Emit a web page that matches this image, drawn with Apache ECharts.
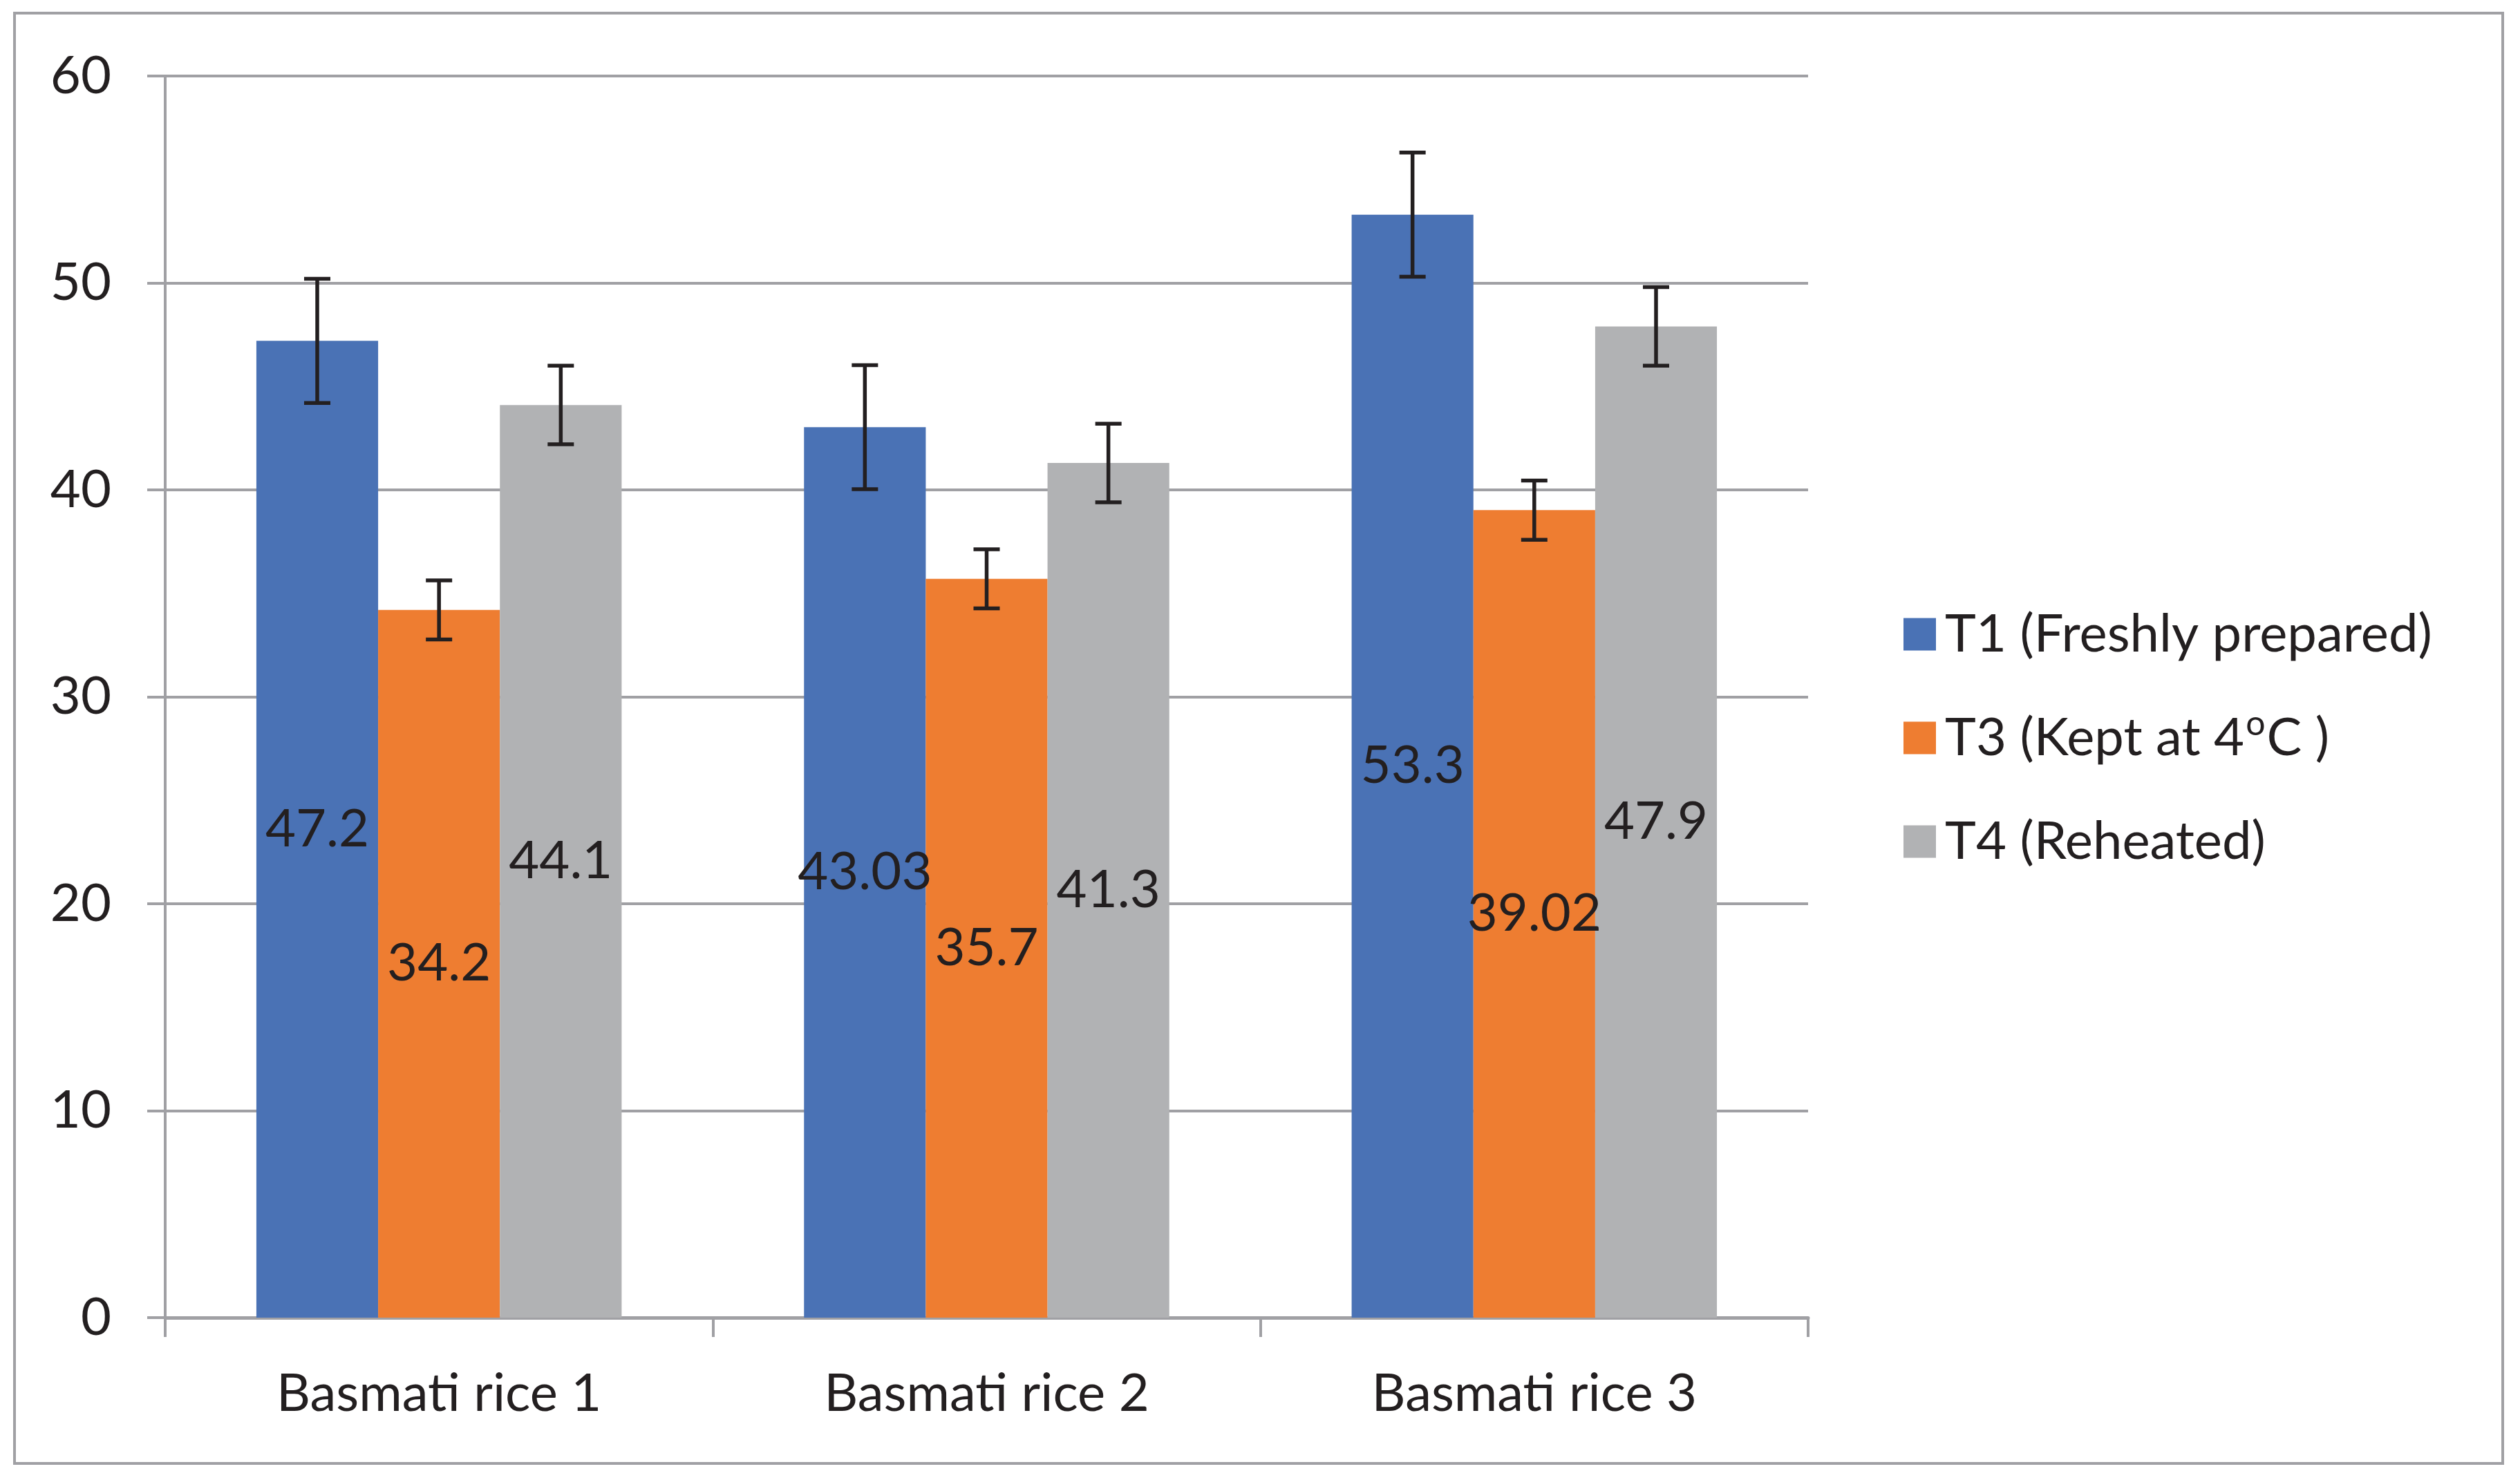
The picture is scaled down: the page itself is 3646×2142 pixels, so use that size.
<!DOCTYPE html>
<html>
<head>
<meta charset="utf-8">
<script src="https://cdn.jsdelivr.net/npm/echarts@6/dist/echarts.min.js"></script>
<style>
html,body{margin:0;padding:0;background:#fff;}
#c{width:3646px;height:2142px;}
</style>
</head>
<body>
<div id="c"></div>
<script>
const categories = ['Basmati rice 1', 'Basmati rice 2', 'Basmati rice 3'];
const seriesNames = ['T1 (Freshly prepared)', 'T3 (Kept at 4°C )', 'T4 (Reheated)'];
const t1Values = [47.2, 43.03, 53.3];
const t3Values = [34.2, 35.7, 39.02];
const t4Values = [44.1, 41.3, 47.9];
const t1Errors = [3.0, 3.0, 3.0];
const t3Errors = [1.43, 1.43, 1.43];
const t4Errors = [1.9, 1.9, 1.9];
const yTicks = [0, 10, 20, 30, 40, 50, 60];

const colors = ['#4a72b5', '#ee7d31', '#b1b2b4'];
const FONT = 'Lato';
const TXT = '#231f20';
const AXC = '#a0a0a4';
const GAP = 0.333;

const values = [t1Values, t3Values, t4Values];
const errors = [t1Errors, t3Errors, t4Errors];

const errData = [];
for (let k = 0; k < 3; k++) {
  for (let i = 0; i < categories.length; i++) {
    errData.push([i, values[k][i] - errors[k][i], values[k][i] + errors[k][i], k]);
  }
}

const chart = echarts.init(document.getElementById('c'), null, {renderer: 'canvas'});

const barSeries = seriesNames.map((name, k) => ({
  name: name,
  type: 'bar',
  data: values[k],
  barGap: '0%',
  barCategoryGap: (GAP * 100) + '%',
  itemStyle: {color: colors[k]},
  label: {
    show: true,
    position: 'inside',
    color: TXT,
    fontFamily: FONT,
    fontSize: 76,
    formatter: p => String(p.value)
  },
  emphasis: {disabled: true},
  z: 2
}));

const errSeries = {
  type: 'custom',
  name: 'err',
  data: errData,
  encode: {x: 0, y: [1, 2]},
  z: 5,
  silent: true,
  renderItem: function (params, api) {
    const cat = api.value(0), lo = api.value(1), hi = api.value(2), k = api.value(3);
    const bandW = api.size([1, 0])[0];
    const barW = bandW * (1 - GAP) / 3;
    const cx = api.coord([cat, 0])[0] + (k - 1) * barW;
    const yt = api.coord([cat, hi])[1];
    const yb = api.coord([cat, lo])[1];
    const ch = 19;
    const st = {stroke: TXT, lineWidth: 5.5};
    return {
      type: 'group',
      children: [
        {type: 'line', shape: {x1: cx, y1: yt, x2: cx, y2: yb}, style: st},
        {type: 'line', shape: {x1: cx - ch, y1: yt, x2: cx + ch, y2: yt}, style: st},
        {type: 'line', shape: {x1: cx - ch, y1: yb, x2: cx + ch, y2: yb}, style: st}
      ]
    };
  }
};

const option = {
  backgroundColor: '#ffffff',
  animation: false,
  graphic: [{
    type: 'rect',
    shape: {x: 21, y: 19, width: 3600, height: 2099},
    style: {fill: 'none', stroke: AXC, lineWidth: 4},
    z: 0
  }],
  grid: {left: 239, right: 1030, top: 110, bottom: 235, containLabel: false},
  legend: {
    orient: 'vertical',
    left: 2749,
    top: 868,
    itemWidth: 47,
    itemHeight: 47,
    itemGap: 60,
    icon: 'rect',
    data: seriesNames,
    textStyle: {
      color: TXT, fontFamily: FONT, fontSize: 76, lineHeight: 90, padding: [0, 0, 0, 8],
      rich: {
        n: {color: TXT, fontFamily: FONT, fontSize: 76, lineHeight: 90},
        s: {color: TXT, fontFamily: FONT, fontSize: 50, lineHeight: 90, verticalAlign: 'top', padding: [0, 2, 0, 2]}
      }
    },
    formatter: function (name) {
      if (name.indexOf('°') >= 0) {
        const parts = name.split('°');
        return '{n|' + parts[0] + '}{s|o}{n|' + parts[1] + '}';
      }
      return '{n|' + name + '}';
    }
  },
  xAxis: {
    type: 'category',
    data: categories,
    axisLine: {show: true, lineStyle: {color: AXC, width: 5}},
    axisTick: {show: true, alignWithLabel: false, length: 28, lineStyle: {color: AXC, width: 4}},
    axisLabel: {color: TXT, fontFamily: FONT, fontSize: 76, margin: 72},
    splitLine: {show: false}
  },
  yAxis: {
    type: 'value',
    min: yTicks[0],
    max: yTicks[yTicks.length - 1],
    interval: 10,
    axisLine: {show: true, lineStyle: {color: AXC, width: 4}},
    axisTick: {show: true, length: 26, lineStyle: {color: AXC, width: 4}},
    axisLabel: {color: TXT, fontFamily: FONT, fontSize: 76, margin: 78},
    splitLine: {show: true, lineStyle: {color: AXC, width: 4}}
  },
  series: [...barSeries, errSeries]
};

chart.setOption(option);
</script>
</body>
</html>
